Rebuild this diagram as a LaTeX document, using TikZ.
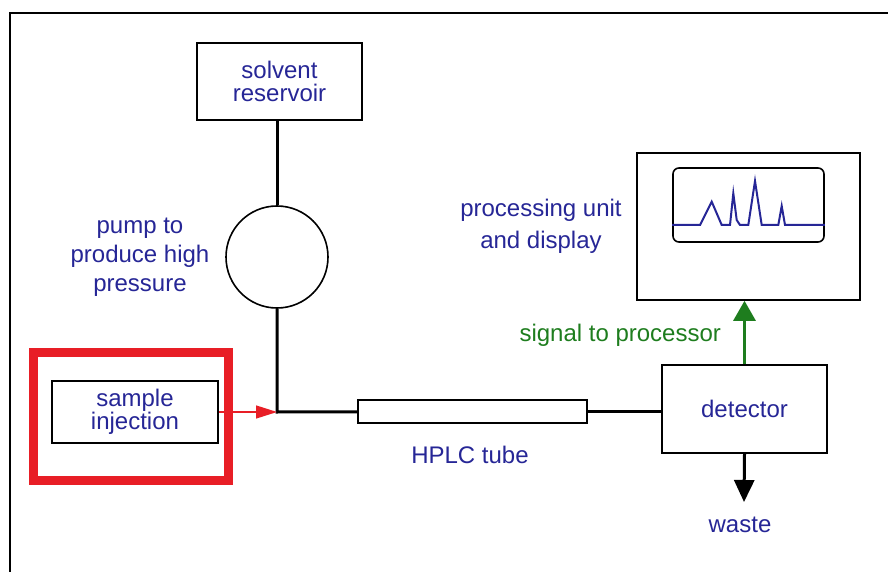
\documentclass[tikz,border=0pt]{standalone}
\usepackage{fontspec}
\setmainfont{Liberation Sans}
\usetikzlibrary{arrows.meta}
\definecolor{labelblue}{RGB}{38,38,150}
\definecolor{sigreen}{RGB}{30,125,30}
\definecolor{hired}{RGB}{232,30,38}
\tikzset{unit/.style={draw,line width=0.8pt,align=center,text=labelblue,font=\fontsize{12}{11.5}\selectfont},
         lbl/.style={align=center,text=labelblue,font=\fontsize{12}{14.5}\selectfont},
         pipe/.style={line width=1.5pt},
         }
\begin{document}
\begin{tikzpicture}[x=0.5pt,y=-0.5pt]
		\useasboundingbox (0,0) rectangle (888,572);
		\draw[line width=1pt] (10,572) -- (10,13) -- (888,13);
		\node[unit,minimum width=82.5pt,minimum height=38.5pt] (res) at (279.5,81.5) {solvent\\reservoir};
		\node[draw,circle,line width=0.8pt,minimum size=51pt] (pump) at (277,257) {};
		\node[lbl] (pumplbl) at (140,257) {pump to\\produce high\\pressure};
		\node[draw=hired,line width=4.5pt,minimum width=97.5pt,minimum height=64pt] (redbox) at (131,416.5) {};
		\node[unit,minimum width=83pt,minimum height=31pt] (inj) at (135,412) {sample\\injection};
		\coordinate (jn) at (277,412);
		\node[draw,line width=1pt,minimum width=114.5pt,minimum height=11.5pt] (tube) at (472.5,411.5) {};
		\node[lbl] (tubelbl) at (470,455) {HPLC tube};
		\node[unit,minimum width=82.5pt,minimum height=44pt] (det) at (744.5,409) {detector};
		\node[lbl] (waste) at (740,525) {waste};
		\coordinate (wend) at (744,502);
		\node[draw,line width=0.8pt,minimum width=111.5pt,minimum height=73.5pt] (proc) at (748.5,226.5) {};
		\node[draw,rounded corners=3pt,line width=0.8pt,minimum width=75.5pt,minimum height=37pt] (disp) at (748.5,205) {};
		\node[lbl,font=\fontsize{12}{16}\selectfont] (proclbl) at (541,226) {processing unit\\and display};
		\node[anchor=east,text=sigreen,font=\fontsize{12}{14}\selectfont] (sig) at (728,335) {signal to processor};
		\draw[pipe] (pump.north) -- (pump.north |- res.south);
		\draw[pipe] (pump) -- (jn) -- (tube);
		\draw[pipe] (tube.east) -- (tube.east -| det.west);
		\draw[hired,line width=0.7pt,-{Triangle[length=10.5pt,width=6.5pt]}] (inj) -- (jn);
		\draw[sigreen,line width=1.5pt,-{Triangle[length=10pt,width=11pt]}] (det.north) -- (det.north |- proc.south);
		\draw[pipe,-{Triangle[length=11pt,width=10pt]}] (det.south) -- (wend);
		\draw[labelblue,line width=1pt] (disp.west |- 0,225) -- (700,225) -- (711.7,201.7) -- (721.7,225) -- (730,225)
		   -- (733.3,193.3) -- (736.7,220) -- (740,225) -- (748.3,225) -- (755,181) -- (761.7,225)
		   -- (778.3,225) -- (781.7,206) -- (785,225) -- (disp.east |- 0,225);
\end{tikzpicture}
\end{document}
